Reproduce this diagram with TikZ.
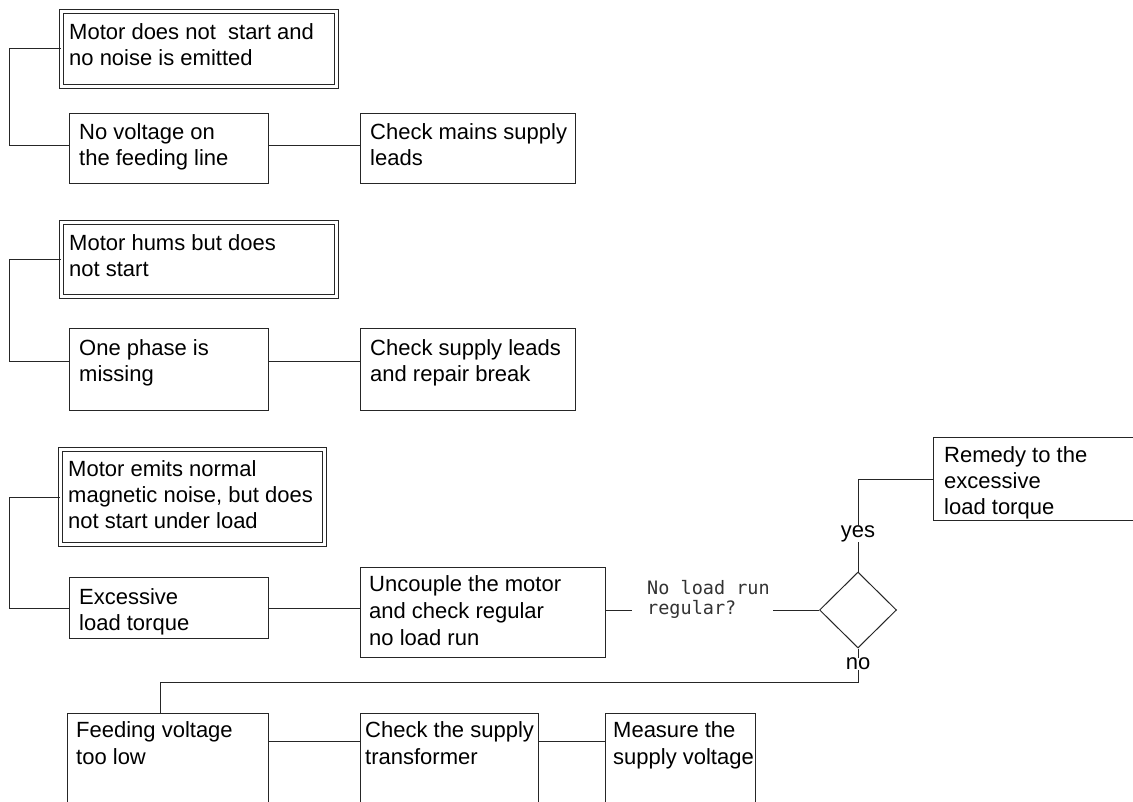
\documentclass[tikz,border=0pt]{standalone}
\usepackage{fontspec}
\setmainfont{Liberation Sans}
\newfontfamily\cadfont{DejaVu Sans Mono}
\usetikzlibrary{shapes.geometric}
\begin{document}
\begin{tikzpicture}[x=1pt,y=-1pt,
  ln/.style={line width=1pt, draw=black!85},
  box/.style={ln, draw, inner sep=0, anchor=north west},
  openbox/.style={inner sep=0, anchor=north west},
  dbl/.style={ln, draw, inner sep=0, anchor=north west, double distance=3pt, double=white},
  txt/.style={font=\fontsize{22}{26}\selectfont, align=left, anchor=north west, inner sep=0},
  cad/.style={font=\cadfont\fontsize{18.5}{20}\selectfont, align=left, anchor=north west, inner sep=0, text=black!80},
  yn/.style={font=\fontsize{22}{25}\selectfont, inner sep=0}
]
\useasboundingbox (0,0) rectangle (1133,802);
\fill[white] (0,0) rectangle (1133,802);

% ---------- group 1
\node[dbl, minimum width=275, minimum height=75] (D1) at (61,11) {};
\node[txt] (D1t) at (69,23) {Motor does not\ \ start and\\no noise is emitted};
\node[box, minimum width=199, minimum height=70] (b1) at (69,113) {};
\node[txt] (b1t) at (79,123) {No voltage on\\the feeding line};
\node[box, minimum width=215, minimum height=70] (c1) at (360,113) {};
\node[txt] (c1t) at (370,123) {Check mains supply\\leads};
\coordinate (j1) at (9,146);
\draw[ln] (D1.west) -| (j1) -- (b1.west |- j1);
\draw[ln] (b1.east |- j1) -- (c1.west |- j1);

% ---------- group 2
\node[dbl, minimum width=275, minimum height=74] (D2) at (61,222) {};
\node[txt] (D2t) at (69,234) {Motor hums but does\\not start};
\node[box, minimum width=199, minimum height=82] (b2) at (69,328) {};
\node[txt] (b2t) at (79,339) {One phase is\\missing};
\node[box, minimum width=215, minimum height=82] (c2) at (360,328) {};
\node[txt] (c2t) at (370,339) {Check supply leads\\and repair break};
\coordinate (j2) at (9,362);
\draw[ln] (D2.west) -| (j2) -- (b2.west |- j2);
\draw[ln] (b2.east |- j2) -- (c2.west |- j2);

% ---------- group 3
\node[dbl, minimum width=264, minimum height=95] (D3) at (60,449) {};
\node[txt] (D3t) at (68,460) {Motor emits normal\\magnetic noise, but does\\not start under load};
\node[box, minimum width=199, minimum height=61] (b3) at (69,577) {};
\node[txt] (b3t) at (79,588) {Excessive\\load torque};
\node[box, minimum width=245, minimum height=90] (c3) at (360,567) {};
\node[txt, font=\fontsize{22}{27}\selectfont] (c3t) at (369,575) {Uncouple the motor\\and check regular\\no load run};
\coordinate (j3) at (9,608);
\draw[ln] (D3.west) -| (j3) -- (b3.west |- j3);
\draw[ln] (b3.east |- j3) -- (c3.west |- j3);

% decision
\node[ln, draw, diamond, inner sep=0, minimum width=77, minimum height=76, aspect=1] (q) at (858,610) {};
\node[cad] (ql) at (647,580) {No load run\\regular?};
\coordinate (qa) at (632,610);
\coordinate (qb) at (773,610);
\draw[ln] (c3.east |- qa) -- (qa);
\draw[ln] (qb) -- (q.west);

\node[box, minimum width=200, minimum height=83] (r) at (933,437) {};
\node[txt] (rt) at (944,446) {Remedy to the\\excessive\\load torque};

\node[yn] (yes) at (858,534) {yes};
\node[yn] (no) at (858,664) {no};
\draw[ln] (q.north) -- (yes.south);
\draw[ln] (yes.north) |- (r.west);
\draw[ln] (q.south) -- (no.north);
\coordinate (k1) at (858,682);
\coordinate (k2) at (160,682);

% bottom row (open at the bottom)
\node[openbox, minimum width=201, minimum height=92] (f) at (67,713) {};
\node[openbox, minimum width=178, minimum height=92] (t) at (360,713) {};
\node[openbox, minimum width=150, minimum height=92] (m) at (605,713) {};
\draw[ln] (f.south west) -- (f.north west) -- (f.north east) -- (f.south east);
\draw[ln] (t.south west) -- (t.north west) -- (t.north east) -- (t.south east);
\draw[ln] (m.south west) -- (m.north west) -- (m.north east) -- (m.south east);
\node[txt, font=\fontsize{22}{27}\selectfont] (ft) at (76,721) {Feeding voltage\\too low};
\node[txt, font=\fontsize{22}{27}\selectfont] (tt) at (365,721) {Check the supply\\transformer};
\node[txt, font=\fontsize{22}{27}\selectfont] (mt) at (613,721) {Measure the\\supply voltage};
\draw[ln] (no.south) -- (k1) -- (k2) -- (f.north -| k2);
\coordinate (j4) at (9,741);
\draw[ln] (f.east |- j4) -- (t.west |- j4);
\draw[ln] (t.east |- j4) -- (m.west |- j4);
\end{tikzpicture}
\end{document}
